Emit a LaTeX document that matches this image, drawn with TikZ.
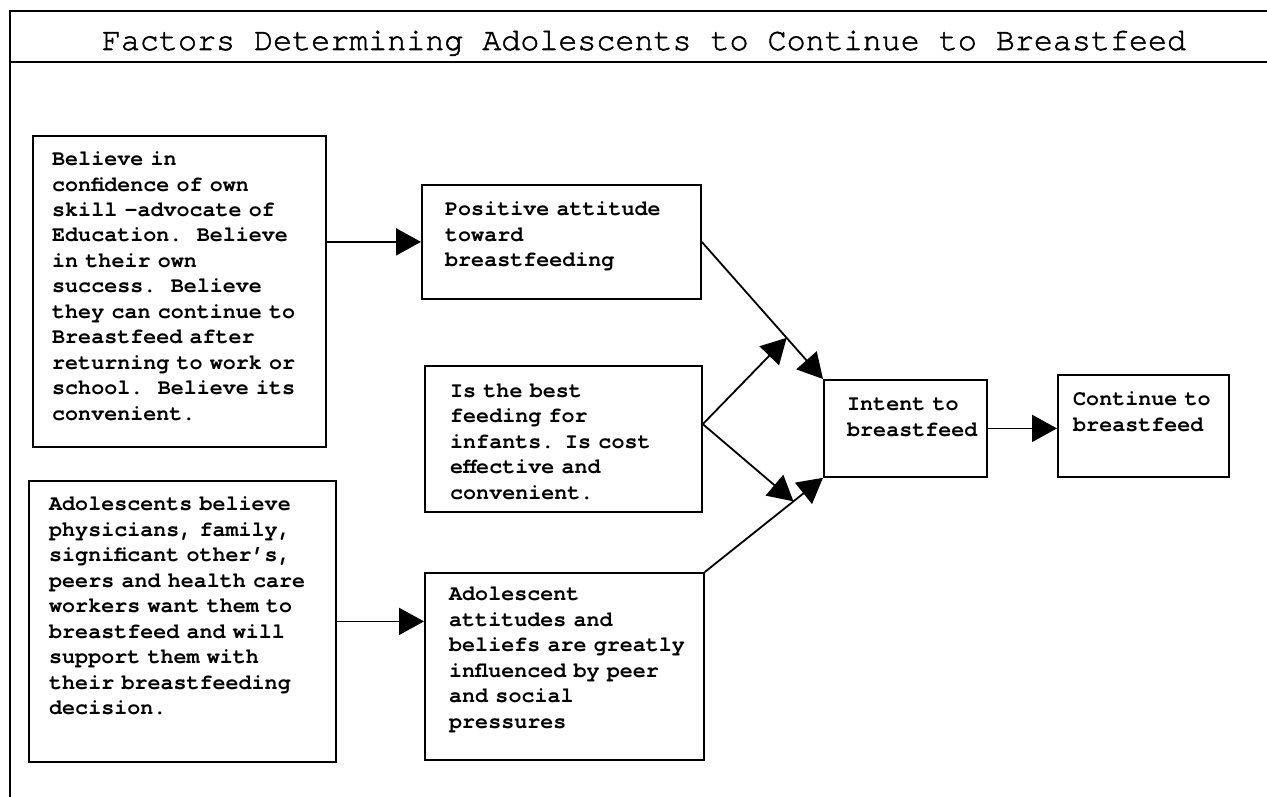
\documentclass[tikz,border=0pt]{standalone}
\usepackage{fontspec}
\newfontfamily\boxfont{TeX Gyre Cursor}[UprightFont=*, BoldFont=* Bold]
\newfontfamily\titlefont{TeX Gyre Cursor}[FakeBold=1.6]
\usetikzlibrary{arrows.meta,calc}
\begin{document}
\begin{tikzpicture}[x=1pt,y=-1pt,
  frameline/.style={line width=1.6pt},
  box/.style={draw, line width=1.8pt, anchor=north west, inner sep=0pt},
  txt/.style={anchor=base west, align=left, inner sep=0pt, text width=300pt,
    font=\boxfont\bfseries\fontsize{21.7pt}{25.5pt}\selectfont},
  arr/.style={line width=1.8pt, -{Triangle[length=25pt,width=27pt]}}
]
\useasboundingbox (0,0) rectangle (1267,797);
% frame
\draw[frameline] (1267,11) -- (10,11) -- (10,797);
\draw[line width=2.6pt] (10,62) -- (1267,62);
\node[anchor=base, inner sep=0pt, font=\titlefont\fontsize{31.7pt}{36pt}\selectfont] (title) at (644,50)
  {Factors Determining Adolescents to Continue to Breastfeed};
% boxes
\node[box, minimum width=293pt, minimum height=311pt] (A) at (32,135) {};
\node[box, minimum width=279pt, minimum height=114pt] (B) at (421,184) {};
\node[box, minimum width=277pt, minimum height=146pt] (C) at (424,365) {};
\node[box, minimum width=307pt, minimum height=281pt] (D) at (28,480) {};
\node[box, minimum width=279pt, minimum height=187pt] (E) at (424,572) {};
\node[box, minimum width=163pt, minimum height=97pt] (F) at (823,379) {};
\node[box, minimum width=171pt, minimum height=102pt] (G) at (1057,374) {};
% texts
\node[txt] (At) at (52,165.5) {Believe in\\confidence of own\\skill -advocate of\\Education.\ \ Believe\\in their own\\success.\ \ Believe\\they can continue to\\Breastfeed after\\returning to work or\\school.\ \ Believe its\\convenient.};
\node[txt] (Bt) at (445,215.5) {Positive attitude\\toward\\breastfeeding};
\node[txt] (Ct) at (450,397) {Is the best\\feeding for\\infants. Is cost\\effective and\\convenient.};
\node[txt] (Dt) at (49,510.5) {Adolescents believe\\physicians, family,\\significant other’s,\\peers and health care\\workers want them to\\breastfeed and will\\support them with\\their breastfeeding\\decision.};
\node[txt] (Et) at (449,600.5) {Adolescent\\attitudes and\\beliefs are greatly\\influenced by peer\\and social\\pressures};
\node[txt] (Ft) at (847,410.5) {Intent to\\breastfeed};
\node[txt] (Gt) at (1073,405.5) {Continue to\\breastfeed};
% connectors
\coordinate (m1) at ($(B.east)!0.7!(F.north west)$);
\coordinate (m2) at ($(E.north east)!0.75!(F.south west)$);
\coordinate (cs) at ($(C.north east)!0.4!(C.south east)$);
\draw[arr] (A.east |- B.west) -- (B.west);
\draw[arr] (D.east) -- (D.east -| E.west);
\draw[arr] (B.east) -- (F.north west);
\draw[arr] (E.north east) -- (F.south west);
\draw[arr] (cs) -- (m1);
\draw[arr] (cs) -- (m2);
\draw[arr] (F.east) -- (F.east -| G.west);
\end{tikzpicture}
\end{document}
